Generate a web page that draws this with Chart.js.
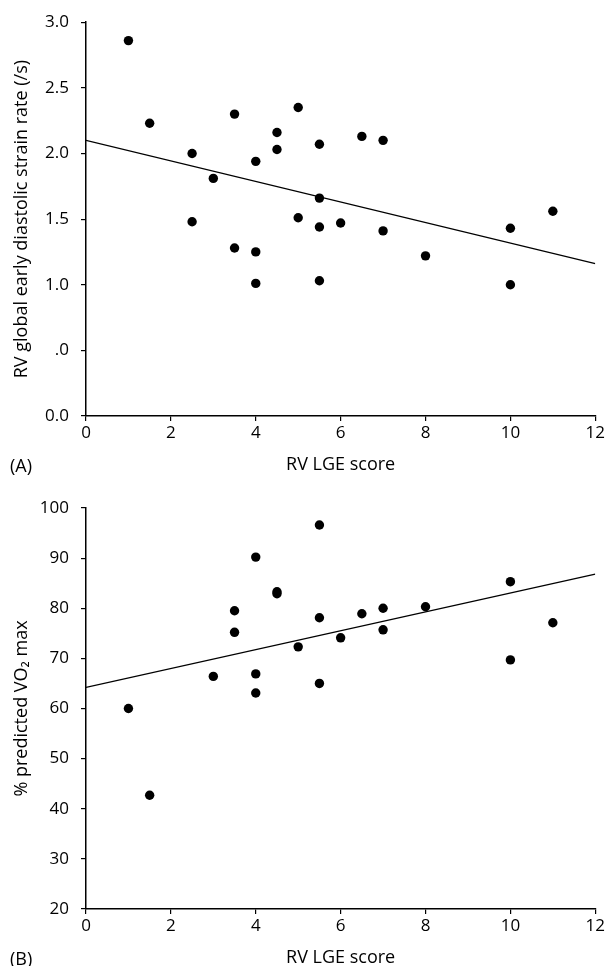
<!DOCTYPE html>
<html>
<head>
<meta charset="utf-8">
<script src="https://cdn.jsdelivr.net/npm/chart.js@4.4.0/dist/chart.umd.min.js"></script>
<style>
  body { margin: 0; background: #fff; width: 607px; height: 966px; position: relative; overflow: hidden; font-family: "Open Sans", sans-serif; }
  .box { position: absolute; left: 0; width: 607px; }
  .tag { position: absolute; left: 10px; font-size: 18px; color: #000; line-height: 22px; }
</style>
</head>
<body>
<div class="box" style="top:0;height:483px"><canvas id="chartA" width="607" height="483"></canvas></div>
<div class="box" style="top:483px;height:500px"><canvas id="chartB" width="607" height="500"></canvas></div>
<div class="tag" style="top:454px">(A)</div>
<div class="tag" style="top:947px">(B)</div>
<script>
// Panel A: RV LGE score vs RV global early diastolic strain rate
const lgeA = [1, 1.5, 2.5, 3, 3.5, 4, 4.5, 4.5, 5, 5.5, 6.5, 7, 5.5, 2.5, 5, 5.5, 6, 7, 3.5, 4, 8, 10, 11, 4, 5.5, 10];
const strainA = [2.86, 2.23, 2.00, 1.81, 2.30, 1.94, 2.16, 2.03, 2.35, 2.07, 2.13, 2.10, 1.66, 1.48, 1.51, 1.44, 1.47, 1.41, 1.28, 1.25, 1.22, 1.43, 1.56, 1.01, 1.03, 1.00];
const fitXA = [0, 12];
const fitYA = [2.10, 1.16];
const yTicksA = [0, 0.5, 1, 1.5, 2, 2.5, 3];
const yLabelsA = ["0.0", ".0", "1.0", "1.5", "2.0", "2.5", "3.0"];

// Panel B: RV LGE score vs % predicted VO2 max
const lgeB = [1, 1.5, 3, 3.5, 3.5, 4, 4, 4, 4.5, 4.5, 5, 5.5, 5.5, 5.5, 6, 6.5, 7, 7, 8, 10, 10, 11];
const vo2B = [60.0, 42.7, 66.4, 79.5, 75.2, 90.2, 66.9, 63.1, 83.3, 82.9, 72.3, 96.6, 78.1, 65.0, 74.1, 78.9, 80.0, 75.7, 80.3, 85.3, 69.7, 77.1];
const fitXB = [0, 12];
const fitYB = [64.2, 86.8];
const yTicksB = [20, 30, 40, 50, 60, 70, 80, 90, 100];
const yLabelsB = ["20", "30", "40", "50", "60", "70", "80", "90", "100"];

const xTicks = [0, 2, 4, 6, 8, 10, 12];
const xLabels = ["0", "2", "4", "6", "8", "10", "12"];

const tickFont = { family: "Open Sans", size: 17 };
const titleFont = { family: "Open Sans", size: 18 };

function toPoints(xs, ys) {
  return xs.map((x, i) => ({ x: x, y: ys[i] }));
}

function makeChart(id, xs, ys, fx, fy, yTicks, yLabels, yTitle, opts) {
  const ctx = document.getElementById(id).getContext('2d');
  return new Chart(ctx, {
    type: 'scatter',
    data: {
      datasets: [
        {
          data: toPoints(xs, ys),
          pointRadius: 4.7,
          pointBackgroundColor: '#000',
          pointBorderWidth: 0,
        },
        {
          type: 'line',
          data: toPoints(fx, fy),
          showLine: true,
          pointRadius: 0,
          borderColor: '#000',
          borderWidth: 1.3,
          fill: false,
        },
      ],
    },
    options: {
      responsive: false,
      animation: false,
      layout: { padding: { top: opts.top, right: 10, left: 0, bottom: 0 } },
      plugins: { legend: { display: false }, tooltip: { enabled: false } },
      scales: {
        x: {
          type: 'linear',
          min: xTicks[0],
          max: xTicks[xTicks.length - 1],
          afterBuildTicks: (s) => { s.ticks = xTicks.map(v => ({ value: v })); },
          afterFit: (s) => { s.height = opts.xHeight; },
          ticks: { color: '#000', font: tickFont, padding: 2, maxRotation: 0, callback: (v, i) => xLabels[i] },
          grid: { drawOnChartArea: false, drawTicks: true, tickLength: 5, color: '#000', lineWidth: 1.2 },
          border: { color: '#000', width: 1.5 },
          title: { display: true, text: 'RV LGE score', color: '#000', font: titleFont, padding: { top: 0, bottom: opts.titlePad } },
        },
        y: {
          type: 'linear',
          min: yTicks[0],
          max: yTicks[yTicks.length - 1],
          afterBuildTicks: (s) => { s.ticks = yTicks.map(v => ({ value: v })); },
          afterFit: (s) => { s.width = 86; },
          ticks: { color: '#000', font: tickFont, padding: 12, callback: (v, i) => yLabels[i] },
          grid: { drawOnChartArea: false, drawTicks: true, tickLength: 5, color: '#000', lineWidth: 1.2 },
          border: { color: '#000', width: 1.5 },
          title: { display: true, text: yTitle, color: '#000', font: titleFont, padding: { top: 11, bottom: 0 } },
        },
      },
    },
  });
}

makeChart('chartA', lgeA, strainA, fitXA, fitYA, yTicksA, yLabelsA,
  'RV global early diastolic strain rate (/s)', { top: 21, xHeight: 67, titlePad: 7 });
makeChart('chartB', lgeB, vo2B, fitXB, fitYB, yTicksB, yLabelsB,
  '% predicted VO₂ max', { top: 25, xHeight: 74, titlePad: 14 });
</script>
</body>
</html>
